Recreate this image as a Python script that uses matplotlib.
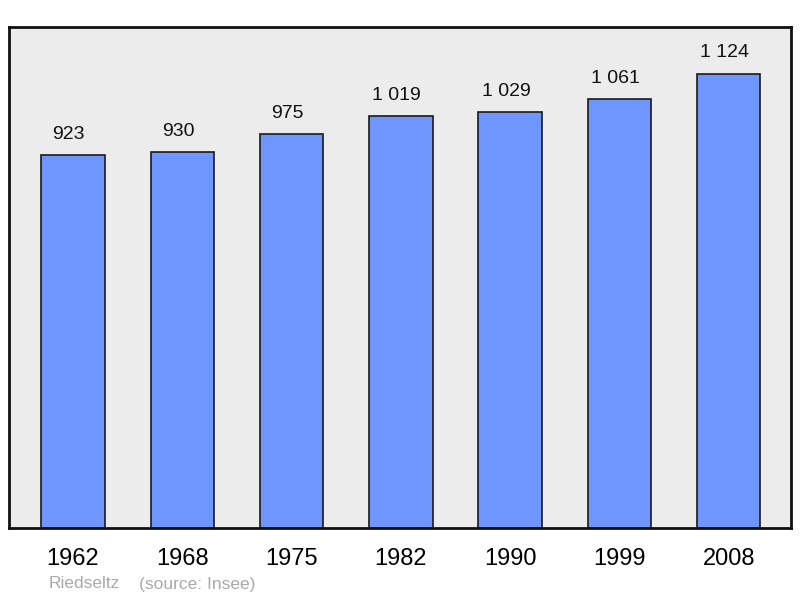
import matplotlib.pyplot as plt

plt.rcParams['font.family'] = ['Liberation Sans', 'DejaVu Sans']

years = ['1962', '1968', '1975', '1982', '1990', '1999', '2008']
population = [923, 930, 975, 1019, 1029, 1061, 1124]
labels = ['923', '930', '975', '1 019', '1 029', '1 061', '1 124']

fig = plt.figure(figsize=(8, 5.98), dpi=100)
ax = fig.add_axes([9 / 800, 70 / 598, 782 / 800, 501 / 598])
ax.set_facecolor('#ececec')

x = range(len(years))
ax.bar(x, population, width=0.58, color='#6f96ff', edgecolor='#1a1a1a', linewidth=1.2, zorder=2)

for xi, val, lab in zip(x, population, labels):
    ax.annotate(lab, (xi, val), xytext=(-3, 9), textcoords='offset points',
                ha='center', va='bottom', fontsize=14, color='#111111')

ax.set_xlim(-0.585, 6.57)
ax.set_ylim(0, 1240)
ax.set_yticks([])
ax.set_xticks(list(x))
ax.set_xticklabels(years, fontsize=17)
ax.tick_params(axis='x', length=0, pad=14.5)

for s in ax.spines.values():
    s.set_linewidth(2)
    s.set_color('#111111')

fig.text(49 / 800, 1 - 584 / 598, 'Riedseltz', fontsize=12.5, color='#aaaaaa', va='center')
fig.text(139 / 800, 1 - 584 / 598, '(source: Insee)', fontsize=12.5, color='#aaaaaa', va='center')

plt.savefig('out.png', dpi=100)
